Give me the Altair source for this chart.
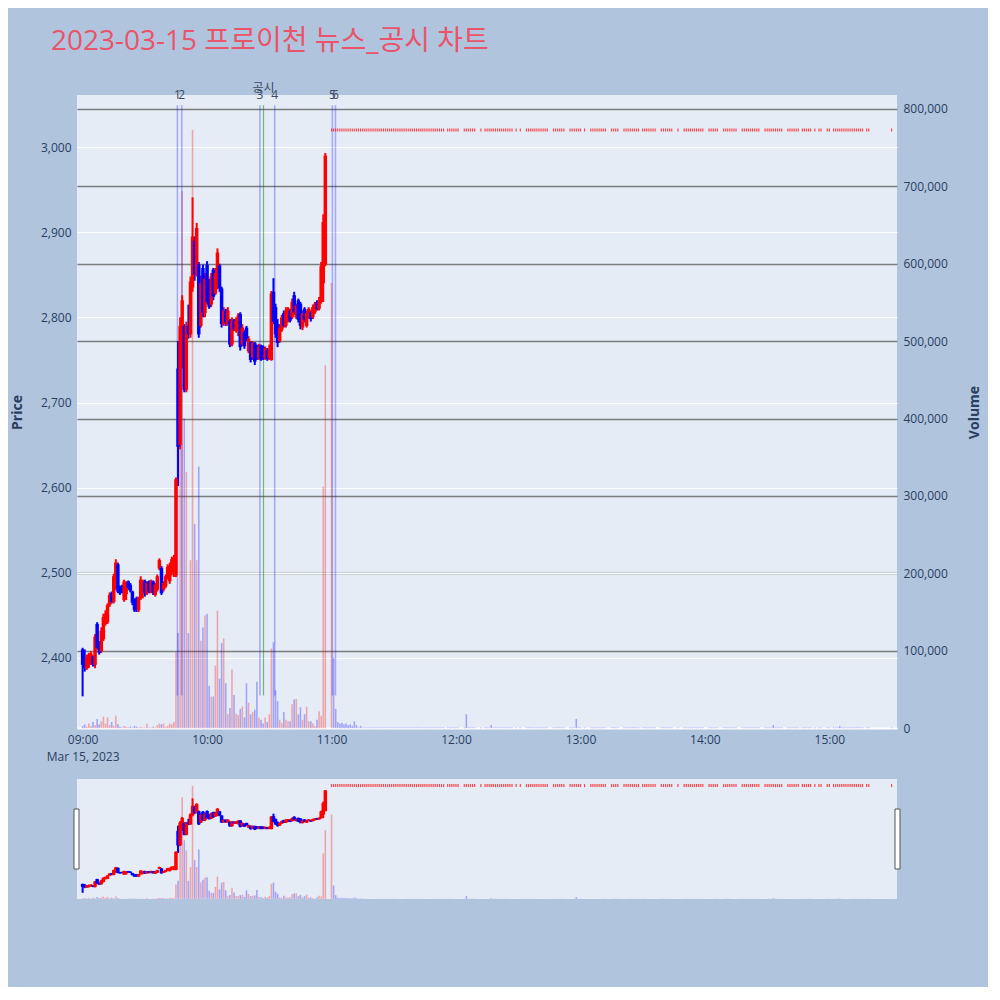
import altair as alt
import pandas as pd

TITLE = "2023-03-15 프로이천 뉴스_공시 차트"
DATE_LABEL = "Mar 15, 2023"

# 1-minute candles from 09:00 (minute 0) to 10:57 (minute 117)
opens = [2410,2400,2388,2392,2396,2402,2392,2440,2418,2408,
         2422,2440,2442,2462,2476,2466,2482,2510,2483,2484,
         2468,2475,2490,2486,2478,2468,2470,2456,2470,2476,
         2490,2476,2490,2478,2490,2474,2480,2505,2506,2480,
         2484,2494,2490,2500,2506,2497,2740,2650,2745,2790,
         2715,2790,2780,2835,2890,2850,2862,2790,2858,2805,
         2862,2843,2815,2856,2828,2835,2861,2834,2792,2808,
         2792,2796,2768,2796,2784,2786,2804,2768,2783,2788,
         2760,2771,2753,2770,2767,2752,2767,2765,2752,2762,
         2752,2750,2830,2812,2792,2772,2785,2805,2790,2796,
         2808,2800,2826,2800,2820,2816,2788,2810,2790,2800,
         2806,2800,2806,2818,2810,2818,2840,2862]
highs = [2412,2410,2404,2406,2408,2403,2428,2442,2420,2436,
         2452,2456,2464,2477,2478,2499,2516,2512,2485,2486,
         2492,2490,2491,2488,2479,2470,2472,2472,2496,2492,
         2492,2490,2491,2492,2491,2488,2498,2517,2508,2490,
         2498,2510,2512,2519,2521,2612,2772,2800,2826,2792,
         2795,2815,2848,2941,2895,2911,2865,2849,2862,2852,
         2866,2845,2852,2858,2858,2881,2863,2836,2812,2810,
         2812,2798,2800,2798,2800,2805,2806,2792,2785,2790,
         2778,2772,2772,2771,2768,2769,2768,2767,2766,2764,
         2768,2831,2846,2816,2798,2792,2803,2808,2812,2812,
         2810,2822,2830,2816,2822,2818,2808,2812,2808,2812,
         2808,2815,2818,2820,2824,2865,2921,2993]
lows = [2355,2384,2386,2388,2392,2390,2388,2410,2404,2406,
        2420,2438,2440,2460,2464,2464,2480,2476,2474,2476,
        2466,2468,2480,2477,2462,2454,2454,2454,2468,2470,
        2472,2474,2476,2476,2474,2472,2478,2503,2474,2478,
        2482,2492,2487,2497,2495,2495,2602,2645,2740,2712,
        2712,2775,2776,2830,2843,2848,2776,2788,2800,2800,
        2815,2810,2812,2820,2826,2833,2830,2788,2790,2790,
        2790,2765,2766,2784,2782,2778,2761,2766,2763,2772,
        2758,2747,2750,2744,2750,2750,2749,2750,2750,2749,
        2750,2749,2792,2776,2765,2770,2783,2788,2788,2794,
        2794,2798,2803,2798,2794,2786,2785,2794,2788,2798,
        2795,2798,2804,2808,2808,2816,2818,2860]
closes = [2392,2388,2400,2404,2405,2392,2425,2412,2406,2432,
          2448,2452,2462,2474,2466,2496,2512,2478,2476,2478,
          2490,2486,2482,2479,2465,2456,2458,2470,2492,2488,
          2476,2488,2478,2490,2477,2486,2496,2515,2476,2488,
          2496,2507,2508,2516,2518,2610,2648,2790,2820,2715,
          2790,2780,2842,2895,2850,2905,2780,2840,2805,2845,
          2818,2812,2848,2824,2852,2876,2834,2792,2808,2794,
          2808,2768,2796,2786,2796,2802,2765,2788,2766,2774,
          2775,2750,2770,2748,2754,2766,2751,2752,2764,2751,
          2762,2828,2795,2780,2770,2788,2800,2790,2808,2810,
          2796,2818,2806,2814,2797,2790,2805,2797,2805,2810,
          2798,2812,2816,2810,2820,2860,2912,2990]
volumes_k = [3,5,2,6,3,8,4,12,5,9,
             15,6,14,4,8,3,16,5,2,1,
             3,2,1,2,1,3,2,1,2,1,
             1,6,1,1,2,1,4,6,5,6,
             2,3,6,5,8,98,123,524,694,400,
             331,123,217,773,264,217,338,113,130,146,
             148,55,41,41,81,152,64,110,116,58,
             18,26,76,43,19,17,25,28,14,58,
             33,18,21,24,60,14,11,6,14,8,
             18,103,111,49,35,11,7,21,11,9,
             9,31,37,38,18,27,11,18,28,9,
             9,6,3,11,22,16,312,469]

# after 11:00 the price sits at the upper limit: runs of minutes with a flat candle
post_price = 3020
post_runs = [(120,174),(176,181),(184,189),(192,192),(194,207),(209,209),(211,211),
             (214,224),(227,232),(235,240),(242,242),(245,252),(255,258),(261,268),
             (270,276),(279,284),(287,287),(290,299),(302,306),(309,315),(318,326),
             (329,337),(340,345),(347,351),(353,353),(355,356),(359,360),(362,376),
             (378,379),(390,390)]
post_vol_k = {120:575, 121:91, 122:25, 123:8, 124:6, 125:7, 126:5, 127:6, 128:4,
              129:5, 130:3, 131:9, 132:4, 134:3, 185:18, 197:4, 238:12, 333:4, 365:3}
post_vol_default_k = 1
post_up_minutes = [120]

news_labels = ["1", "2", "3", "4", "5", "6"]
news_minutes = [45.7, 47.8, 85.5, 92.6, 120.4, 121.9]
disc_labels = ["공시"]
disc_minutes = [87.2]
vline_span = [2356, 3049]
news_label_price = 3061
disc_label_price = 3069

price_ticks = [2400, 2500, 2600, 2700, 2800, 2900, 3000]
volume_ticks = [0, 100000, 200000, 300000, 400000, 500000, 600000, 700000, 800000]
hour_ticks = [0, 60, 120, 180, 240, 300, 360]
price_domain = [2316.6, 3061.1]
volume_domain = [-1000, 818000]
minute_domain = [-0.3, 390.2]

RED = "#ff0000"
BLUE = "#0000ff"
INK = "#2a3f5f"
FONT = "Open Sans, Noto Sans CJK KR"

rows = []
for i, (o, h, l, c, v) in enumerate(zip(opens, highs, lows, closes, volumes_k)):
    col = RED if c >= o else BLUE
    rows.append(dict(m=i, kind="pre", open=o, high=h, low=l, close=c,
                     vol=v * 1000, ccol=col, vcol=col))
for a, b in post_runs:
    for mm in range(a, b + 1):
        v = post_vol_k.get(mm, post_vol_default_k)
        rows.append(dict(m=mm, kind="post", open=post_price, high=post_price,
                         low=post_price, close=post_price, vol=v * 1000,
                         ccol=RED, vcol=RED if mm in post_up_minutes else BLUE))
df = pd.DataFrame(rows)

news_df = pd.DataFrame({"m": news_minutes, "label": news_labels,
                        "lo": [vline_span[0]] * len(news_minutes),
                        "hi": [vline_span[1]] * len(news_minutes),
                        "ty": [news_label_price] * len(news_minutes)})
disc_df = pd.DataFrame({"m": disc_minutes, "label": disc_labels,
                        "lo": [vline_span[0]] * len(disc_minutes),
                        "hi": [vline_span[1]] * len(disc_minutes),
                        "ty": [disc_label_price] * len(disc_minutes)})

x_scale = alt.Scale(domain=minute_domain, nice=False, zero=False)
p_scale = alt.Scale(domain=price_domain, nice=False, zero=False)
v_scale = alt.Scale(domain=volume_domain, nice=False, zero=False)

x_axis = alt.Axis(values=hour_ticks, grid=False, ticks=False, domain=False,
                  labelExpr="datum.value == 0 ? ['09:00', '" + DATE_LABEL + "'] : (floor(datum.value / 60) + 9) + ':00'",
                  labelPadding=5, labelFontSize=12, labelColor=INK, labelFont=FONT,
                  labelLineHeight=17, title=None)
p_axis = alt.Axis(orient="left", values=price_ticks, format=",d", grid=True,
                  gridColor="white", gridWidth=1, ticks=False, domain=False,
                  labelPadding=6, labelFontSize=12, labelColor=INK, labelFont=FONT,
                  title="Price", titleX=-67, titleBaseline="top", titleAngle=270,
                  titleFontSize=14, titleFontWeight="bold", titleColor=INK, titleFont=FONT)
v_axis = alt.Axis(orient="right", values=volume_ticks, format=",d", grid=True,
                  gridColor={"condition": {"test": "datum.value === 0", "value": "white"}, "value": "#7d7d7d"},
                  gridWidth={"condition": {"test": "datum.value === 0", "value": 2}, "value": 1.4},
                  ticks=False, domain=False,
                  labelPadding=6, labelFontSize=12, labelColor=INK, labelFont=FONT,
                  title="Volume", titleX=70, titleBaseline="top", titleAngle=270,
                  titleFontSize=14, titleFontWeight="bold", titleColor=INK, titleFont=FONT)


def build(main):
    X = alt.X("m:Q", scale=x_scale, axis=x_axis if main else None)

    def PY(field):
        return alt.Y(field, type="quantitative", scale=p_scale, axis=p_axis if main else None)

    VY = alt.Y("vol:Q", scale=v_scale, axis=v_axis if main else None)
    base = alt.Chart(df)
    pre = base.transform_filter("datum.kind == 'pre'")
    post = base.transform_filter("datum.kind == 'post'")

    vol = base.mark_bar(size=1.6, opacity=0.3).encode(
        x=X, y=VY, color=alt.Color("vcol:N", scale=None))
    wick = pre.mark_rule(strokeWidth=2).encode(
        x=X, y=PY("low"), y2="high:Q", color=alt.Color("ccol:N", scale=None))
    body = pre.mark_bar(size=3.5).encode(
        x=X, y=PY("open"), y2="close:Q", color=alt.Color("ccol:N", scale=None))
    flat = post.mark_tick(orient="vertical", size=3, thickness=1.2, color=RED).encode(
        x=X, y=PY("close"))
    price_layers = [wick, body, flat]
    if main:
        nl = alt.Chart(news_df).mark_rule(color="blue", opacity=0.28, strokeWidth=1.6).encode(
            x=X, y=PY("lo"), y2="hi:Q")
        dl = alt.Chart(disc_df).mark_rule(color="green", opacity=0.5, strokeWidth=1.2).encode(
            x=X, y=PY("lo"), y2="hi:Q")
        nt = alt.Chart(news_df).mark_text(fontSize=12, color="#3d4a5f", font=FONT,
                                          baseline="middle").encode(
            x=X, y=PY("ty"), text="label:N")
        dt = alt.Chart(disc_df).mark_text(fontSize=12, color="#3d4a5f", font=FONT,
                                          baseline="middle").encode(
            x=X, y=PY("ty"), text="label:N")
        price_layers = [nl, dl, wick, body, flat, nt, dt]
    layers = [vol, alt.layer(*price_layers)]
    if not main:
        handle = alt.Chart(pd.DataFrame({"h": [0]})).mark_rect(
            fill="white", stroke="#555555", strokeWidth=1).encode(
            x=alt.value(-3), x2=alt.value(2), y=alt.value(30), y2=alt.value(90))
        handle2 = alt.Chart(pd.DataFrame({"h": [0]})).mark_rect(
            fill="white", stroke="#555555", strokeWidth=1).encode(
            x=alt.value(818), x2=alt.value(823), y=alt.value(30), y2=alt.value(90))
        layers += [handle, handle2]
    return alt.layer(*layers).resolve_scale(y="independent").properties(
        width=820, height=634 if main else 120)


chart = alt.vconcat(
    build(True), build(False), spacing=50, bounds="flush",
    title=alt.TitleParams(TITLE, anchor="start", fontSize=28, color="#e9546b",
                          font=FONT, fontWeight="normal", dx=41, offset=26),
    padding={"left": 2, "top": 20, "right": 7, "bottom": 88},
).configure(background="#b0c4de").configure_view(stroke=None, fill="#e5ecf6")

chart.save("out.html", embed_options={"renderer": "svg", "actions": False})
